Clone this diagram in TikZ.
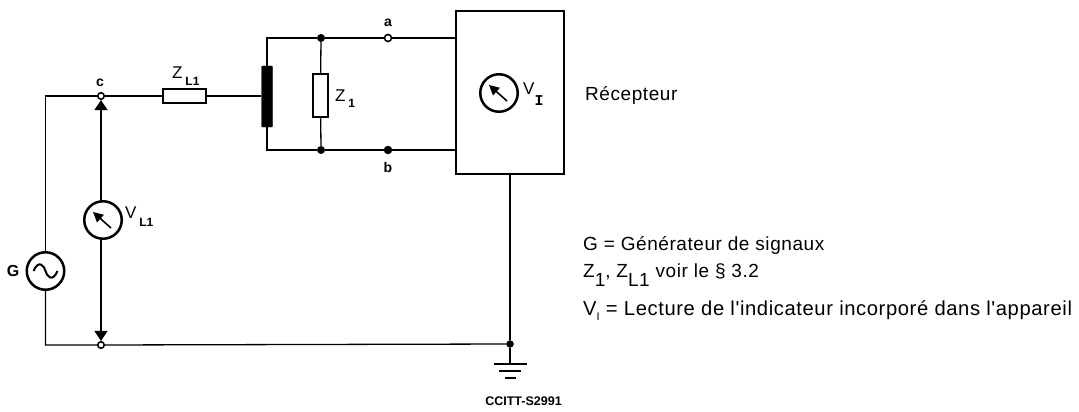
\documentclass[tikz,border=0pt]{standalone}
\usepackage{fontspec}
\setmainfont{Liberation Sans}
\newfontfamily\legendfont[LetterSpace=3]{Liberation Sans}
\newfontfamily\monofont{Liberation Mono}
\usetikzlibrary{arrows.meta}
\tikzset{
  wire/.style={line width=1.3pt},
  meter/.style={draw,circle,line width=2.5pt,minimum size=37.5pt,inner sep=0pt},
  opendot/.style={draw,circle,fill=white,line width=1.6pt,minimum size=6.5pt,inner sep=0pt},
  soliddot/.style={draw,circle,fill=black,minimum size=7.5pt,inner sep=0pt},
  resistor/.style={draw,fill=white,line width=2.5pt,inner sep=0pt},
  tag/.style={font=\fontsize{14}{15}\selectfont\bfseries,inner sep=0pt},
  sign/.style={inner sep=0pt,anchor=base west},
  legend/.style={font=\legendfont\fontsize{19}{20}\selectfont,inner sep=0pt,anchor=base west},
  needle/.style={line width=1.6pt,-{Triangle[length=10pt,width=10pt]}},
  stub/.style={wire,-{Triangle[length=10pt,width=13pt]}},
  earth/.style={line width=2.8pt}
}
% letter with a small bold index set below its baseline
\newcommand{\bigsub}[3]{\fontsize{17}{18}\selectfont #2\,\raisebox{-#1pt}{\fontsize{12}{13}\selectfont\bfseries #3}}
\begin{document}
\begin{tikzpicture}[x=1pt,y=-1pt]
  \useasboundingbox (0,0) rectangle (1079,412);
  % corners and junctions
  \coordinate (tl) at (45.5,96);
  \coordinate (bl) at (45.5,345);
  \node[opendot] (c) at (101,96) {};
  \node[opendot] (d) at (101,345) {};
  \node[soliddot,minimum size=7pt] (e) at (510,344) {};
  \coordinate (barin) at (261,96);
  \coordinate (at) at (267,38);
  \coordinate (ab) at (267,150);
  \node[soliddot] (j1) at (321,38) {};
  \node[soliddot] (j2) at (321,150) {};
  \node[opendot,minimum size=7pt] (a) at (388,38) {};
  \node[soliddot,minimum size=8pt] (b) at (388,150) {};
  % boxes
  \node[draw,fill=white,line width=2.5pt,minimum width=108pt,minimum height=163pt,inner sep=0pt] (rx) at (510,92.5) {};
  \node[resistor,minimum width=43pt,minimum height=14pt] (zl) at (184.5,96) {};
  \node[resistor,minimum width=15pt,minimum height=43pt] (zone) at (320.5,95.5) {};
  \node[draw,fill=black,rounded corners=1pt,minimum width=11pt,minimum height=61pt,inner sep=0pt] (bar) at (267,96.5) {};
  % meters
  \node[meter] (vl) at (103,220) {};
  \node[meter] (vi) at (499,93) {};
  \node[meter] (gen) at (45.5,271) {};
  % wires
  \draw[wire] (gen) -- (tl) -- (c) -- (zl) -- (barin);
  \draw[wire] (gen) -- (bl) -- (d) -- (e);
  \draw[wire] (bar.north) -- (at) -- (j1) -- (a) -- (a -| rx.west);
  \draw[wire] (bar.south) -- (ab) -- (j2) -- (b) -- (b -| rx.west);
  \draw[wire] (j1) -- (zone);
  \draw[wire] (j2) -- (zone);
  \draw[stub] (vl.north -| c) -- (c);
  \draw[stub] (vl.south -| d) -- (d);
  \draw[wire] (e |- rx.south) -- (e);
  % ground
  \coordinate (g1) at (510,364);
  \coordinate (g2) at (510,371);
  \coordinate (g3) at (510,378);
  \draw[wire] (e) -- (g1);
  \draw[earth] ([xshift=-16.5pt]g1) -- ([xshift=16.5pt]g1);
  \draw[earth] ([xshift=-11pt]g2) -- ([xshift=11pt]g2);
  \draw[earth] ([xshift=-5.5pt]g3) -- ([xshift=5.5pt]g3);
  % needles
  \draw[needle] ([shift={(8,8)}]vl.center) -- ([shift={(-10,-8)}]vl.center);
  \draw[needle] ([shift={(8,8)}]vi.center) -- ([shift={(-10,-8)}]vi.center);
  \draw[line width=2pt] ([xshift=-12pt]gen.center) .. controls ([shift={(-7,-12)}]gen.center) and ([shift={(-1,-5)}]gen.center) .. (gen.center) .. controls ([shift={(1,5)}]gen.center) and ([shift={(7,12)}]gen.center) .. ([xshift=12pt]gen.center);
  % labels
  \node[tag] (lc) at (100,83) {c};
  \node[tag] (la) at (388,23) {a};
  \node[tag] (lb) at (388,167) {b};
  \node[tag,font=\fontsize{16}{17}\selectfont\bfseries] (lg) at (13,271) {G};
  \node[sign] (lzl) at (172,78) {\bigsub{7}{Z}{L1}};
  \node[sign] (lzo) at (335,101) {\bigsub{6}{Z}{1}};
  \node[sign] (lvl) at (125,218) {\bigsub{8}{V}{L1}};
  \node[sign] (lvi) at (523,94) {\fontsize{17}{18}\selectfont V\raisebox{-12pt}{\monofont\fontsize{15}{16}\selectfont\bfseries I}};
  \node[legend] (rcp) at (585,100.5) {Récepteur};
  \node[legend] (t1) at (583,250) {G = Générateur de signaux};
  \node[legend] (t2) at (583,277) {Z\raisebox{-9pt}{1}, Z\raisebox{-9pt}{L1} voir le § 3.2};
  \node[legend,font=\legendfont\fontsize{20.2}{21}\selectfont] (t3) at (583,315) {V\raisebox{-5pt}{\fontsize{11}{12}\selectfont I} = Lecture de l'indicateur incorporé dans l'appareil};
  \node[tag,font=\fontsize{12.5}{13}\selectfont\bfseries] (ref) at (523.5,401) {CCITT-S2991};
\end{tikzpicture}
\end{document}
